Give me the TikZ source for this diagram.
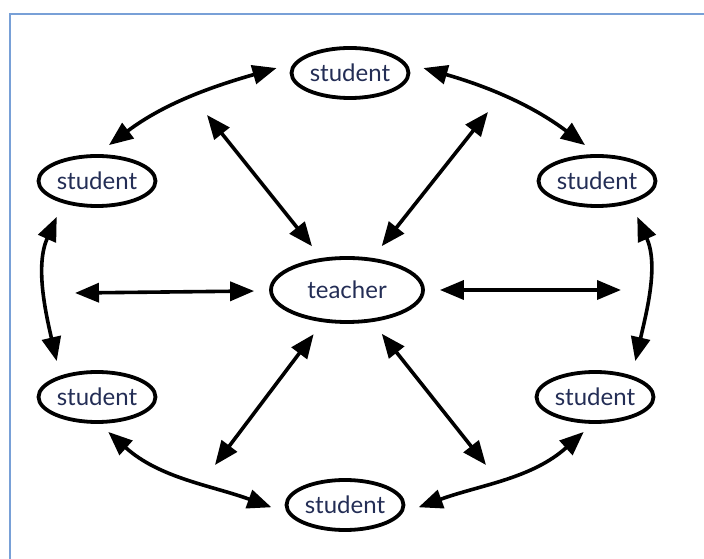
\documentclass[tikz,border=0pt]{standalone}
\usepackage{fontspec}
\setmainfont{Lato}
\usetikzlibrary{shapes.geometric,arrows.meta}
\definecolor{labelblue}{RGB}{35,45,85}
\definecolor{frameblue}{RGB}{120,160,215}

\begin{document}
\begin{tikzpicture}[x=1pt,y=1pt,
		pupil/.style={ellipse,draw,line width=3.8pt,minimum width=117pt,minimum height=50pt,inner sep=0pt,text=labelblue,font=\fontsize{24}{28}\selectfont},
		tutor/.style={pupil,minimum width=152pt,minimum height=64pt},
		twoway/.style={line width=3.6pt,{Triangle[length=24pt,width=19pt]}-{Triangle[length=24pt,width=19pt]}}]
		\useasboundingbox (0,0) rectangle (704,559);
		\draw[frameblue,line width=2pt] (10,-5) -- (10,545) -- (710,545);
		% the six students and the teacher
		\node[pupil] (st1) at (350,486) {student};
		\node[pupil] (st2) at (97,378) {student};
		\node[pupil] (st3) at (597,378) {student};
		\node[tutor] (teacher) at (347,269) {teacher};
		\node[pupil] (st4) at (97,162) {student};
		\node[pupil] (st5) at (595,162) {student};
		\node[pupil] (st6) at (345,54) {student};
		% free ends of the spokes
		\coordinate (s1) at (207,444);
		\coordinate (s2) at (488,447);
		\coordinate (s3) at (75,266);
		\coordinate (s4) at (621,269);
		\coordinate (s5) at (215,94);
		\coordinate (s6) at (486,94);
		\foreach \s in {s1,s2,s3,s4,s5,s6}
			\draw[twoway,shorten <=15pt] (teacher) -- (\s);
		% arcs round the circle
		\draw[twoway,shorten <=18pt,shorten >=15pt] (st1.170) to[out=196,in=37] (st2.north);
		\draw[twoway,shorten <=18pt,shorten >=15pt] (st1.10) to[out=-16,in=143] (st3.north);
		\draw[twoway,shorten <=15pt,shorten >=15pt] (st2.213) to[out=246,in=103] (st4.150);
		\draw[twoway,shorten <=15pt,shorten >=15pt] (st3.327) to[out=294,in=77] (st5.30);
		\draw[twoway,shorten <=12pt,shorten >=17pt] (st4.-85) to[out=318,in=160] (st6.188);
		\draw[twoway,shorten <=12pt,shorten >=17pt] (st5.265) to[out=222,in=20] (st6.352);
	\end{tikzpicture}
\end{document}
